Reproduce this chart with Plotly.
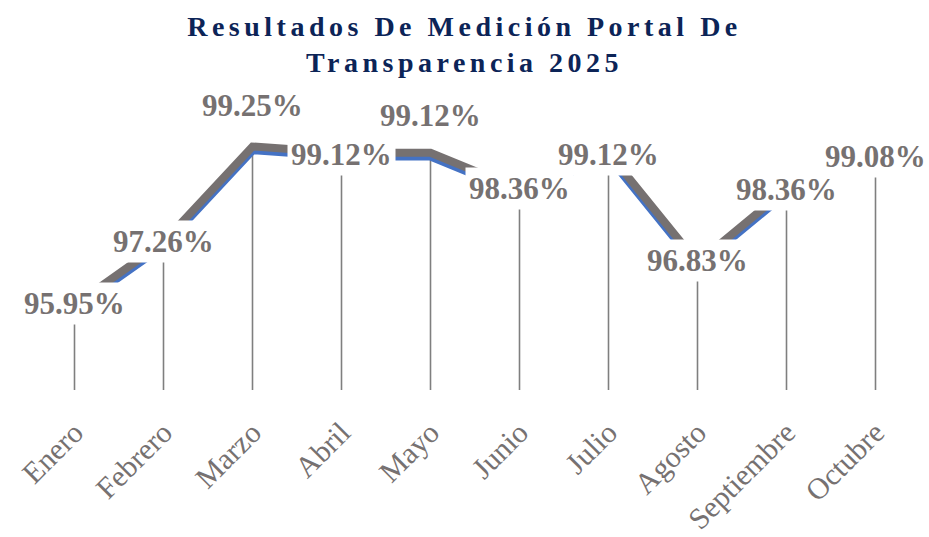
import plotly.graph_objects as go

meses = ["Enero", "Febrero", "Marzo", "Abril", "Mayo", "Junio",
         "Julio", "Agosto", "Septiembre", "Octubre"]
resultados = [95.95, 97.26, 99.25, 99.12, 99.12, 98.36, 99.12, 96.83, 98.36, 99.08]
etiquetas = ["95.95%", "97.26%", "99.25%", "99.12%", "99.12%", "98.36%",
             "99.12%", "96.83%", "98.36%", "99.08%"]

# desplazamiento vertical de cada etiqueta (px) respecto al punto
desplazamiento = [5, 4, 45, 2, 41, 4, 2, 6, 3, 2]

gris = "#767171"
azul = "#4472C4"
eje_min, eje_max = 94.25, 100.5

fig = go.Figure()

# lineas de proyeccion hasta el eje (barras de error hacia abajo)
fig.add_trace(go.Scatter(
    x=meses, y=resultados, mode="markers",
    marker=dict(size=1, color="rgba(0,0,0,0)"),
    error_y=dict(type="data", symmetric=False,
                 array=[0] * len(resultados),
                 arrayminus=[v - eje_min for v in resultados],
                 color="#7f7f7f", thickness=1.6, width=0),
    hoverinfo="skip", showlegend=False))

# borde azul de la cinta
fig.add_trace(go.Scatter(
    x=meses, y=resultados, mode="lines",
    line=dict(color=azul, width=8.5), showlegend=False))

# cinta gris, unos px mas arriba (eje y2 desplazado)
fig.add_trace(go.Scatter(
    x=meses, y=resultados, mode="lines", yaxis="y2",
    line=dict(color=gris, width=8), showlegend=False))

for mes, v, txt, dy in zip(meses, resultados, etiquetas, desplazamiento):
    fig.add_annotation(x=mes, y=v, text=txt, showarrow=False, yshift=dy,
                       bgcolor="white", borderpad=3,
                       font=dict(family="Liberation Serif", size=31, color=gris, weight="bold"))

fig.update_layout(
    width=929, height=537,
    margin=dict(l=30, r=9, t=90, b=147),
    paper_bgcolor="white", plot_bgcolor="white",
    title=dict(text="<b>Resultados De Medición Portal De<br>Transparencia 2025</b>",
               x=0.5, xanchor="center", y=0.933, yanchor="top",
               font=dict(family="Liberation Serif", size=28, color="#0c2457")),
    xaxis=dict(type="category", range=[-0.5, 9.5], showgrid=False, zeroline=False,
               showline=False, tickangle=-45, ticks="outside", ticklen=12,
               tickcolor="rgba(0,0,0,0)", automargin=False,
               tickfont=dict(family="Liberation Serif", size=30, color=gris)),
    yaxis=dict(range=[eje_min, eje_max], visible=False),
    yaxis2=dict(range=[eje_min - 0.073, eje_max - 0.073], overlaying="y", visible=False),
)

script_titulo = """
document.body.style.margin='0';
document.querySelectorAll('.gtitle').forEach(function(t){t.style.letterSpacing='4.5px';});
"""
fig.write_html("out.html", post_script=script_titulo, config={"displayModeBar": False})
